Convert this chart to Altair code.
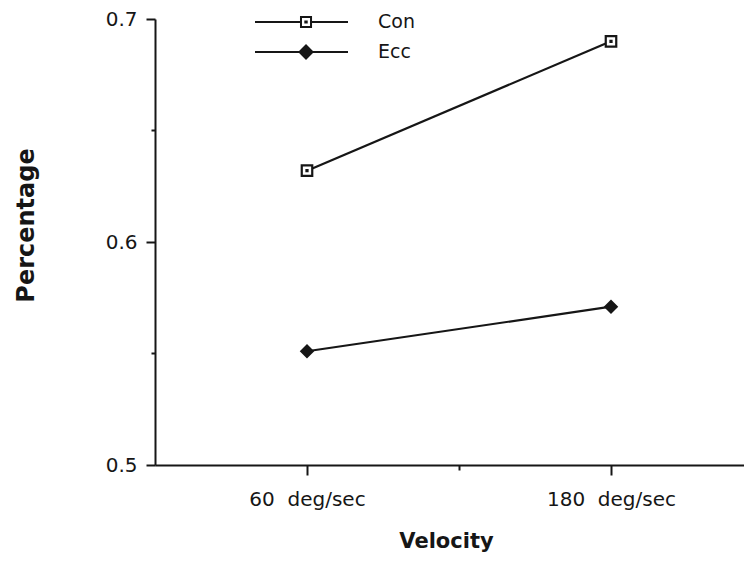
import altair as alt
import pandas as pd

# ---- data ----
series_names = ["Con", "Ecc"]
velocities = [60, 180]
velocity_labels = ["60  deg/sec", "180  deg/sec"]
con_values = [0.632, 0.690]
ecc_values = [0.551, 0.571]
y_major = [0.5, 0.6, 0.7]
y_minor = [0.55, 0.65]
x_minor = [120]

rows = []
for s, vals in zip(series_names, [con_values, ecc_values]):
    for v, val in zip(velocities, vals):
        rows.append({"series": s, "velocity": v, "value": val})
df = pd.DataFrame(rows)

NB = "\u00a0"
parts = []
for v, lab in zip(velocities, velocity_labels):
    parts.append("datum.value == %s ? '%s'" % (v, lab.replace(" ", NB)))
label_expr = " : ".join(parts) + " : ''"

INK = "#161616"
FONT = "DejaVu Sans"

xscale = alt.Scale(domain=[0, 232.5], nice=False, zero=False)
yscale = alt.Scale(domain=[0.5, 0.7], nice=False, zero=False)

base = alt.Chart(df)

lines = base.mark_line(color=INK, strokeWidth=2.2).encode(
    x=alt.X("velocity:Q", scale=xscale, axis=None),
    y=alt.Y("value:Q", scale=yscale, axis=None),
    detail="series:N",
)

square_path = "M-1,-1H1V1H-1Z M-0.1,-0.1H0.1V0.1H-0.1Z"

points = base.mark_point(opacity=1, stroke=INK, strokeWidth=2.2).encode(
    x=alt.X(
        "velocity:Q",
        scale=xscale,
        axis=alt.Axis(
            values=velocities,
            labelExpr=label_expr,
            tickSize=10,
            tickWidth=2,
            tickColor=INK,
            domainColor=INK,
            domainWidth=2,
            labelPadding=14,
            labelFont=FONT,
            labelFontSize=20,
            labelColor=INK,
            grid=False,
            title="Velocity",
            titleFont=FONT,
            titleFontSize=21,
            titleFontWeight="bold",
            titleColor=INK,
            titleX=291,
            titleY=82,
            titleBaseline="alphabetic",
            titleAlign="center",
        ),
    ),
    y=alt.Y(
        "value:Q",
        scale=yscale,
        axis=alt.Axis(
            values=y_major,
            format=".1f",
            tickSize=9,
            tickWidth=2,
            tickColor=INK,
            domainColor=INK,
            domainWidth=2,
            labelPadding=9,
            labelFont=FONT,
            labelFontSize=20,
            labelColor=INK,
            grid=False,
            title="Percentage",
            titleFont=FONT,
            titleFontSize=24,
            titleFontWeight="bold",
            titleColor=INK,
            titleAngle=270,
            titleX=-122,
            titleY=206,
            titleBaseline="alphabetic",
            titleAlign="center",
        ),
    ),
    shape=alt.Shape(
        "series:N",
        scale=alt.Scale(domain=series_names, range=[square_path, "diamond"]),
        legend=None,
    ),
    fill=alt.Fill(
        "series:N",
        scale=alt.Scale(domain=series_names, range=["white", INK]),
        legend=None,
    ),
    size=alt.Size(
        "series:N",
        scale=alt.Scale(domain=series_names, range=[110, 130]),
        legend=None,
    ),
)

# legend symbols: line with a marker on it
con_sym = ("M-1,0H-0.011 M0.205,0H1 "
           "M-0.011,-0.108H0.205V0.108H-0.011Z "
           "M0.082,-0.012H0.112V0.012H0.082Z")
ecc_sym = "M-1,0H1 M-0.043,0L0.097,-0.14L0.237,0L0.097,0.14Z"

legend_def = alt.Legend(
    title=None,
    orient="none",
    legendX=99,
    legendY=-7,
    symbolSize=8649,
    clipHeight=20,
    rowPadding=10,
    labelOffset=29,
    labelFont=FONT,
    labelFontSize=19,
    labelColor=INK,
    symbolStrokeWidth=2,
    symbolStrokeColor=INK,
    padding=0,
)

legend_layer = base.transform_filter("false").mark_point(
    opacity=1, strokeWidth=2
).encode(
    x=alt.X(
        "velocity:Q",
        scale=xscale,
        axis=alt.Axis(values=x_minor, tickSize=5, tickWidth=2, tickColor=INK,
                      labels=False, domain=False, grid=False, title=None,
                      orient="bottom"),
    ),
    y=alt.Y(
        "value:Q",
        scale=yscale,
        axis=alt.Axis(values=y_minor, tickSize=4, tickWidth=2, tickColor=INK,
                      labels=False, domain=False, grid=False, title=None,
                      orient="left"),
    ),
    shape=alt.Shape("series:N",
                    scale=alt.Scale(domain=series_names, range=[con_sym, ecc_sym]),
                    legend=legend_def),
    fill=alt.Fill("series:N",
                  scale=alt.Scale(domain=series_names, range=["white", INK]),
                  legend=legend_def),
    stroke=alt.Stroke("series:N",
                      scale=alt.Scale(domain=series_names, range=[INK, INK]),
                      legend=legend_def),
)

chart = (
    alt.layer(lines, points, legend_layer)
    .resolve_scale(shape="independent", fill="independent",
                   size="independent", stroke="independent")
    .resolve_axis(x="independent", y="independent")
    .properties(
        width=589,
        height=446,
        background="white",
        autosize=alt.AutoSizeParams(type="none"),
        padding={"left": 147, "top": 11, "right": 0, "bottom": 89},
    )
    .configure_view(stroke=None, strokeWidth=0)
    .configure_axis(grid=False)
)

chart.save("out.html", embed_options={"renderer": "svg", "actions": False})
